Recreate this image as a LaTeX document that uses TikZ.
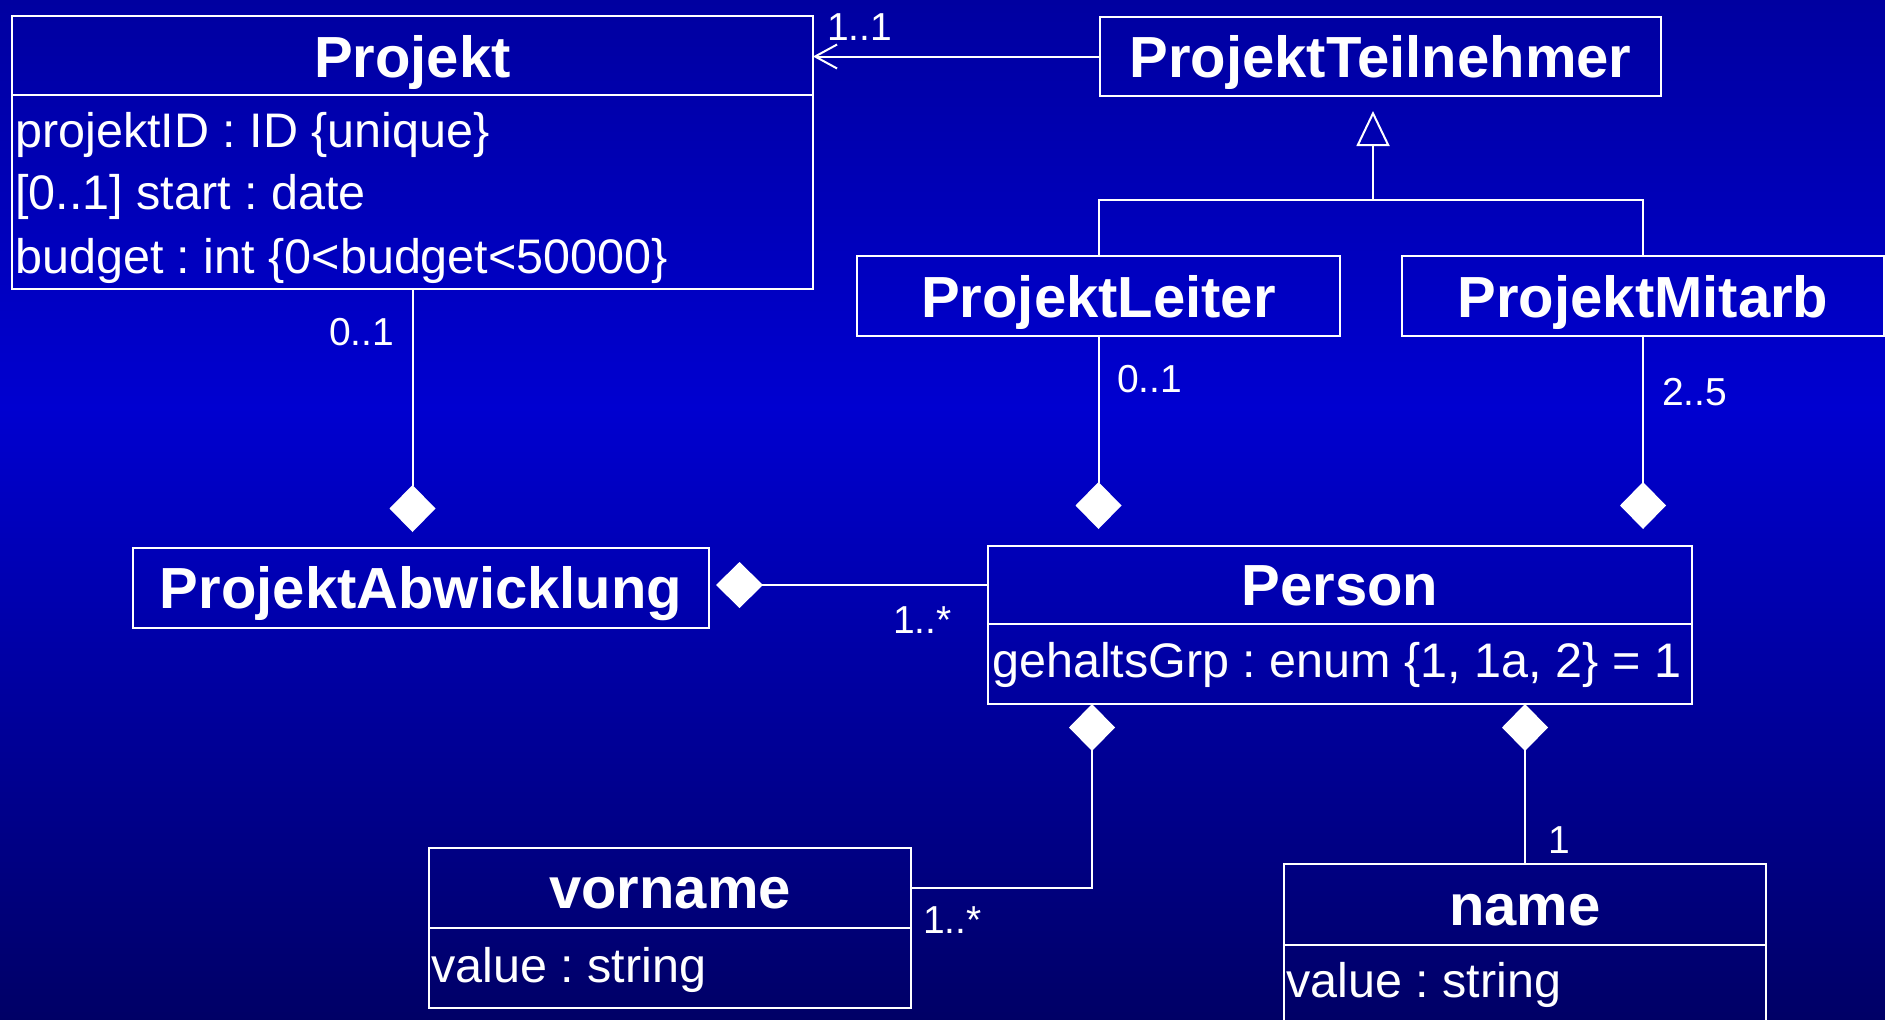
\documentclass[tikz,border=0pt]{standalone}
\usepackage{fontspec}
\setmainfont{Liberation Sans}
\usetikzlibrary{arrows.meta}
\frenchspacing

% slide background: darker at the top and bottom, brightest a little above the middle
\definecolor{bgtop}{RGB}{0,0,160}
\definecolor{bgmid}{RGB}{0,0,208}
\definecolor{bgbot}{RGB}{0,0,102}
\pgfdeclareverticalshading{slidebg}{100bp}{color(0bp)=(bgbot); color(25bp)=(bgbot); color(55bp)=(bgmid); color(75bp)=(bgtop); color(100bp)=(bgtop)}

\tikzset{
  box/.style={draw=white, line width=2.5pt, rectangle, inner sep=0pt, outer sep=0pt, anchor=north west},
  head/.style={text=white, font=\fontsize{58}{60}\selectfont\bfseries, anchor=base, inner sep=0pt},
  attr/.style={text=white, font=\fontsize{48.5}{50}\selectfont, anchor=base west, inner sep=0pt},
  mult/.style={text=white, font=\fontsize{39}{40}\selectfont, anchor=base west, inner sep=0pt},
  conn/.style={draw=white, line width=2pt},
  comp/.style={conn, -{Diamond[length=47pt,width=46pt]}},
  assoc/.style={conn, -{Straight Barb[length=22pt,width=24pt]}},
  inherit/.style={conn, -{Triangle[open,length=35pt,width=33pt]}}
}

\begin{document}
\begin{tikzpicture}[x=1pt,y=-1pt]
\useasboundingbox (0,0) rectangle (1885,1020);
\shade[shading=slidebg] (0,0) rectangle (1885,1020);

% class boxes (header compartment and attribute compartment)
\node[box, minimum width=801pt, minimum height=79pt]  (projekt)     at (12,16)   {};
\node[box, minimum width=801pt, minimum height=194pt] (projektattr) at (12,95)   {};
\node[box, minimum width=561pt, minimum height=79pt]  (teil)        at (1100,17) {};
\node[box, minimum width=483pt, minimum height=80pt]  (leiter)      at (857,256) {};
\node[box, minimum width=482pt, minimum height=80pt]  (mitarb)      at (1402,256) {};
\node[box, minimum width=576pt, minimum height=80pt]  (abw)         at (133,548) {};
\node[box, minimum width=704pt, minimum height=78pt]  (person)      at (988,546) {};
\node[box, minimum width=704pt, minimum height=80pt]  (personattr)  at (988,624) {};
\node[box, minimum width=482pt, minimum height=80pt]  (vorname)     at (429,848) {};
\node[box, minimum width=482pt, minimum height=80pt]  (vornameattr) at (429,928) {};
\node[box, minimum width=482pt, minimum height=81pt]  (name)        at (1284,864) {};
\node[box, minimum width=482pt, minimum height=80pt]  (nameattr)    at (1284,945) {};

% class names
\node[head] (projekt-t) at (412.5,77) {Projekt};
\node[head] (teil-t)    at (1380.5,77) {ProjektTeilnehmer};
\node[head] (leiter-t)  at (1098.5,317) {ProjektLeiter};
\node[head] (mitarb-t)  at (1643,317) {ProjektMitarb};
\node[head] (abw-t)     at (421,608) {ProjektAbwicklung};
\node[head] (person-t)  at (1340,605) {Person};
\node[head] (vorname-t) at (670,908) {vorname};
\node[head] (name-t)    at (1525,925) {name};

% attributes
\node[attr] (pa1) at (15,147) {projektID : ID \{unique\}};
\node[attr] (pa2) at (15,209) {[0..1] start : date};
\node[attr] (pa3) at (15,273) {budget : int \{0<budget<50000\}};
\node[attr] (pe1) at (992,677) {gehaltsGrp : enum \{1, 1a, 2\} = 1};
\node[attr] (vo1) at (431,982) {value : string};
\node[attr] (na1) at (1286,997) {value : string};

% association ProjektTeilnehmer -> Projekt
\draw[assoc] (teil.west) -- (teil.west -| projekt.east);

% generalisation ProjektLeiter / ProjektMitarb -> ProjektTeilnehmer
\coordinate (fork) at (1373,200);
\draw[conn] (leiter.north) -- (leiter.north |- fork) -- (mitarb.north |- fork) -- (mitarb.north);
\draw[inherit, shorten >=15pt] (fork) -- (fork |- teil.south);

% compositions
\draw[comp, shorten >=16pt] (projektattr.south) -- (projektattr.south |- abw.north);
\draw[comp, shorten >=7pt]  (person.west) -- (person.west -| abw.east);
\draw[comp, shorten >=17pt] (leiter.south) -- (leiter.south |- person.north);
\draw[comp, shorten >=17pt] (mitarb.south) -- (mitarb.south |- person.north);
\coordinate (pv) at ([xshift=104pt]personattr.south west);
\draw[comp] (vorname.east) -| (pv);
\draw[comp] (name.north) -- (name.north |- personattr.south);

% multiplicities
\node[mult] (m1) at (827,40)   {1..1};
\node[mult] (m2) at (329,345)  {0..1};
\node[mult] (m3) at (1117,392) {0..1};
\node[mult] (m4) at (1662,405) {2..5};
\node[mult] (m5) at (893,633)  {1..*};
\node[mult] (m6) at (923,933)  {1..*};
\node[mult] (m7) at (1548,853) {1};
\end{tikzpicture}
\end{document}
